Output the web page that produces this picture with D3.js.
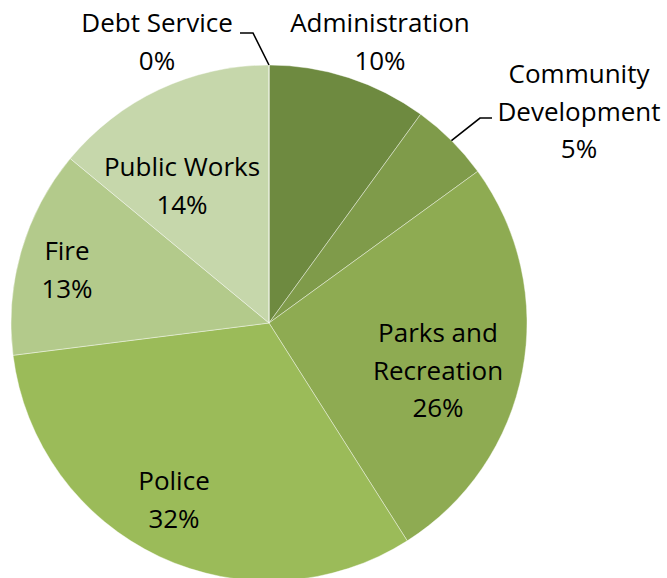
<!DOCTYPE html>
<html>
<head>
<meta charset="utf-8">
<script src="https://cdn.jsdelivr.net/npm/d3@7"></script>
<style>
  html, body { margin: 0; padding: 0; background: #fff; }
  svg { display: block; }
  text { font-family: "Open Sans", Lato, sans-serif; fill: #000; }
</style>
</head>
<body>
<svg id="chart" width="667" height="578"></svg>
<script>
// Budget share by department (percent)
const categories = ["Administration", "Community Development", "Parks and Recreation", "Police", "Fire", "Public Works", "Debt Service"];
const values = [10, 5, 26, 32, 13, 14, 0];
const colors = ["#6e8a40", "#7f9b4a", "#8eab52", "#9bbb59", "#b3ca8b", "#c6d7ab", "#d5e2c0"];

// Label text lines per category
const labelLines = [
  ["Administration"],
  ["Community", "Development"],
  ["Parks and", "Recreation"],
  ["Police"],
  ["Fire"],
  ["Public Works"],
  ["Debt Service"]
];

// Label placement: centre x and first-line baseline, relative to the pie centre,
// plus leader-line elbows for the labels set outside the pie
const labelLayout = [
  { x: 111, y: -291 },
  { x: 310, y: -240, leader: { elbowX: 211, elbowY: -205, endX: 223 } },
  { x: 169, y: 19 },
  { x: -95, y: 167 },
  { x: -202, y: -63 },
  { x: -87, y: -147 },
  { x: -112, y: -291, leader: { elbowX: -16, elbowY: -290, endX: -29 } }
];

const cx = 269, cy = 323, radius = 258;
const lineH = 37.5;
const fontSize = 26;

const svg = d3.select("#chart");
const g = svg.append("g").attr("transform", `translate(${cx},${cy})`);

const pie = d3.pie().sort(null).value(d => d.value).startAngle(0).endAngle(2 * Math.PI);
const data = categories.map((c, i) => ({ name: c, value: values[i], i }));
const arcs = pie(data);
const arc = d3.arc().innerRadius(0).outerRadius(radius);

const color = d3.scaleOrdinal().domain(categories).range(colors);

g.selectAll("path.slice")
  .data(arcs)
  .join("path")
  .attr("class", "slice")
  .attr("d", arc)
  .attr("fill", d => color(d.data.name))
  .attr("stroke", "rgba(255,255,255,0.5)")
  .attr("stroke-width", 0.8);

// Leader lines from the slice edge midpoint to the label
const pct = d3.format(".0%");
const total = d3.sum(values);

arcs.forEach((a, i) => {
  const lay = labelLayout[i];
  if (!lay.leader) return;
  const mid = (a.startAngle + a.endAngle) / 2;
  const ex = radius * Math.sin(mid), ey = -radius * Math.cos(mid);
  const L = lay.leader;
  g.append("polyline")
    .attr("points", `${ex},${ey} ${L.elbowX},${L.elbowY} ${L.endX},${L.elbowY}`)
    .attr("fill", "none")
    .attr("stroke", "#000")
    .attr("stroke-width", 1.6);
});

// Labels: category lines then percentage
arcs.forEach((a, i) => {
  const lay = labelLayout[i];
  const lines = labelLines[i].concat([pct(a.data.value / total)]);
  const t = g.append("text")
    .attr("text-anchor", "middle")
    .attr("font-size", fontSize);
  lines.forEach((ln, k) => {
    t.append("tspan")
      .attr("x", lay.x)
      .attr("y", lay.y + k * lineH)
      .text(ln);
  });
});
</script>
</body>
</html>
